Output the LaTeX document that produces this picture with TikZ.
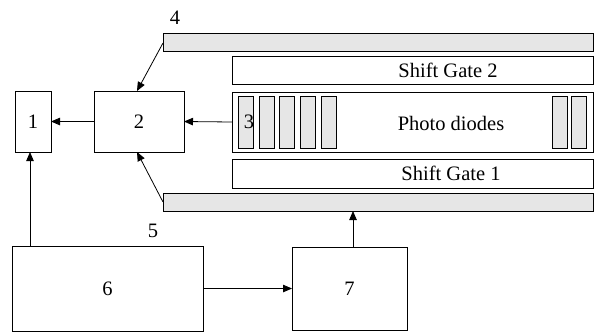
\documentclass[tikz,border=0pt]{standalone}
\usepackage{fontspec}
\setmainfont{Liberation Serif}
\newfontfamily\tmsfont{Liberation Serif}
\usetikzlibrary{arrows.meta,calc}
\definecolor{bargrey}{HTML}{E6E6E6}
\begin{document}
\begin{tikzpicture}[x=1pt,y=-1pt,
  box/.style={draw=black, line width=0.8pt, rectangle, inner sep=0pt, outer sep=0pt, fill=white},
  bar/.style={box, fill=bargrey},
  txt/.style={font=\tmsfont\fontsize{20.5}{24}\selectfont},
  lbl/.style={inner sep=0pt, txt},
  arr/.style={line width=0.8pt, -{Triangle[length=9pt,width=7.5pt]}}]
\useasboundingbox (0,0) rectangle (594,333);
% blocks
\node[box, txt, minimum width=36pt, minimum height=61pt] (b1) at (33,121.5) {1};
\node[box, txt, minimum width=90pt, minimum height=61pt] (b2) at (139,121.5) {2};
\node[bar, minimum width=430pt, minimum height=18pt] (topbar) at (378,42) {};
\node[box, minimum width=361pt, minimum height=28pt] (sg2) at (412.5,70) {};
\node[box, minimum width=361pt, minimum height=60pt] (pd) at (412.5,122) {};
\node[box, minimum width=361pt, minimum height=29pt] (sg1) at (412.5,173.5) {};
\node[bar, minimum width=430pt, minimum height=18pt] (botbar) at (378,202) {};
\node[box, txt, minimum width=191pt, minimum height=85pt] (b6) at (107.5,288.5) {6};
\node[box, txt, minimum width=115pt, minimum height=83pt] (b7) at (349.5,288.5) {7};
% photodiode cells
\foreach \x/\n in {238/d1,259/d2,279/d3,300/d4,321/d5,552/d6,571/d7}
  \node[bar, minimum width=15pt, minimum height=52pt] (\n) at (\x+7.5,122) {};
% texts
\node[lbl] (tsg2) at (448,70) {Shift Gate 2};
\node[lbl] (tpd) at (451,123) {Photo diodes};
\node[lbl] (tsg1) at (451,173.5) {Shift Gate 1};
\node[lbl] (t3) at (249,122) {3};
\node[lbl] (t4) at (175,18) {4};
\node[lbl] (t5) at (153,231) {5};
% connectors
\draw[arr] (b2.west) -- (b1.east);
\draw[arr] (pd.west) -- (b2.east);
\draw[arr] ($(topbar.west)+(0,1)$) -- ($(b2.north)+(-2,0)$);
\draw[arr] (botbar.west) -- ($(b2.south)+(-2,0)$);
\draw[arr] ($(b6.north -| b1.south)+(-3,0)$) -- ($(b1.south)+(-3,0)$);
\draw[arr] (b6.east) -- (b7.west);
\draw[arr] ($(b7.north)+(3.5,0)$) -- ($(b7.north |- botbar.south)+(3.5,0)$);
\end{tikzpicture}
\end{document}
